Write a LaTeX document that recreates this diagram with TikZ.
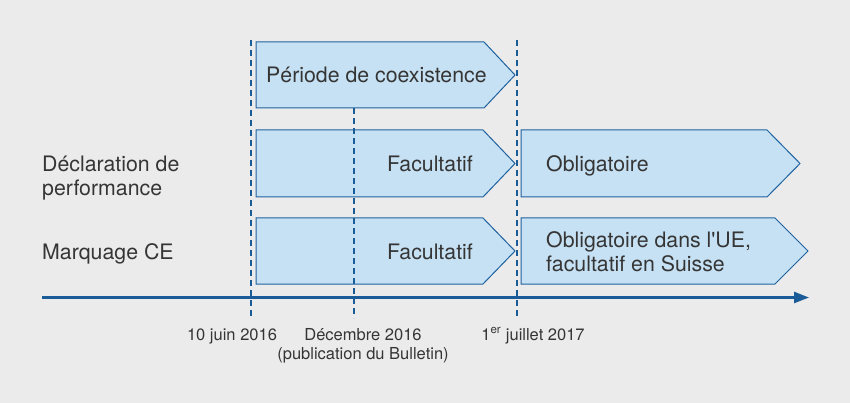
\documentclass[tikz,border=0pt]{standalone}
\usepackage{fontspec}
\setmainfont{TeX Gyre Heros}[Ligatures=TeXOff]
\usetikzlibrary{arrows.meta}
\definecolor{bg}{HTML}{EBEBEB}
\definecolor{boxfill}{HTML}{C6E1F3}
\definecolor{boxline}{HTML}{1F62A0}
\definecolor{axisblue}{HTML}{1A5C98}
\definecolor{txt}{HTML}{353535}
\tikzset{
  phase/.style={draw=boxline, fill=boxfill, line width=1pt, line join=miter},
  guide/.style={draw=axisblue, line width=1.6pt, dash pattern=on 6pt off 4pt},
  big/.style={font=\fontsize{21.3}{24}\selectfont, text=txt, inner sep=0pt},
  small/.style={font=\fontsize{16.5}{20}\selectfont, text=txt, inner sep=0pt},
}
\begin{document}
\begin{tikzpicture}[x=1pt,y=-1pt]
\fill[bg] (0,0) rectangle (850,403);
\useasboundingbox (0,0) rectangle (850,403);
% phase boxes
\path[phase] (256,42) -- (484,42) -- (515,75) -- (484,108) -- (256,108) -- cycle;
\path[phase] (256,130) -- (483,130) -- (515,163.5) -- (483,197) -- (256,197) -- cycle;
\path[phase] (256,218) -- (483,218) -- (515,251) -- (483,284) -- (256,284) -- cycle;
\path[phase] (521,130) -- (767,130) -- (800,163.5) -- (767,197) -- (521,197) -- cycle;
\path[phase] (521,218) -- (775,218) -- (808,251) -- (775,284) -- (521,284) -- cycle;
% guide lines
\coordinate (g1t) at (251,40);
\coordinate (g1b) at (251,318);
\coordinate (g2t) at (354,108);
\coordinate (g2b) at (354,318);
\coordinate (g3t) at (517,40);
\coordinate (g3b) at (517,318);
\draw[guide] (g1t) -- (g1b);
\draw[guide] (g2t) -- (g2b);
\draw[guide] (g3t) -- (g3b);
% axis
\coordinate (ax0) at (42,297.5);
\coordinate (ax1) at (809,297.5);
\draw[axisblue, line width=2.5pt, -{Triangle[length=15pt,width=11pt]}] (ax0) -- (ax1);
% texts
\node[big, anchor=base west] (t1) at (266,83) {Période de coexistence};
\node[big, anchor=base east] (t2) at (473,171.5) {Facultatif};
\node[big, anchor=base east] (t3) at (473,259.5) {Facultatif};
\node[big, anchor=base west] (t4) at (546,171.5) {Obligatoire};
\node[big, anchor=base west] (t5a) at (546,247.5) {Obligatoire dans l'UE,};
\node[big, anchor=base west] (t5b) at (546,271.5) {facultatif en Suisse};
\node[big, anchor=base west] (l1a) at (42,171.5) {Déclaration de};
\node[big, anchor=base west] (l1b) at (42,195.5) {performance};
\node[big, anchor=base west] (l2) at (42,259.5) {Marquage CE};
\node[small, anchor=base] (d1) at (232,340) {10 juin 2016};
\node[small, anchor=base] (d2a) at (363,340) {Décembre 2016};
\node[small, anchor=base] (d2b) at (363,359) {(publication du Bulletin)};
\node[small, anchor=base] (d3) at (533,340) {1\textsuperscript{er} juillet 2017};
\end{tikzpicture}
\end{document}
